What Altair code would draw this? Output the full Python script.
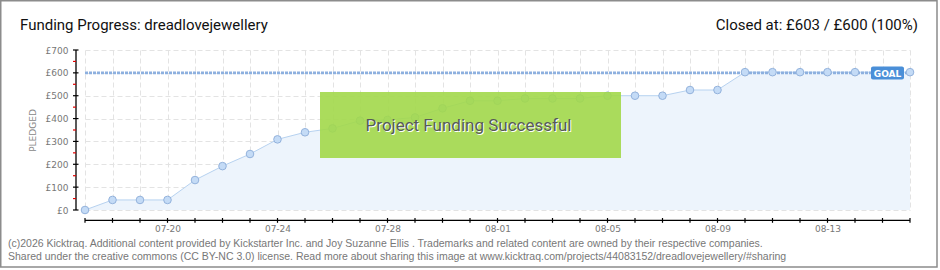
import altair as alt
import pandas as pd

# ---- data ----
dates = ["07-17", "07-18", "07-19", "07-20", "07-21", "07-22", "07-23", "07-24",
         "07-25", "07-26", "07-27", "07-28", "07-29", "07-30", "07-31",
         "08-01", "08-02", "08-03", "08-04", "08-05", "08-06", "08-07", "08-08",
         "08-09", "08-10", "08-11", "08-12", "08-13", "08-14", "08-15", "08-16"]
pledged = [0, 44, 44, 44, 131, 192, 245, 309,
           340, 357, 391, 394, 405, 445, 478,
           478, 488, 488, 488, 500, 500, 500, 525,
           525, 603, 603, 603, 603, 603, 603, 603]
goal = 600
y_ticks = [0, 100, 200, 300, 400, 500, 600, 700]
minor_ticks = [50, 150, 250, 350, 450, 550, 650]
x_labels = ["07-20", "07-24", "07-28", "08-01", "08-05", "08-09", "08-13"]

title_left = "Funding Progress: dreadlovejewellery"
title_right = "Closed at:  £603 /  £600 (100%)"
success_text = "Project Funding Successful"
footer1 = ("(c)2026 Kicktraq. Additional content provided by Kickstarter Inc. and  Joy Suzanne Ellis . "
           "Trademarks and related content are owned by their respective companies.")
footer2 = ("Shared under the creative commons (CC BY-NC 3.0) license. Read more about sharing this image at "
           "www.kicktraq.com/projects/44083152/dreadlovejewellery/#sharing")

df = pd.DataFrame({"date": dates, "pledged": pledged})
goal_df = pd.DataFrame({"date": dates, "pledged": [goal] * len(dates)})
minor_df = pd.DataFrame({"pledged": minor_ticks})
major_df = pd.DataFrame({"pledged": y_ticks})
xdom_df = pd.DataFrame({"date": [dates[0]], "date2": [dates[-1]]})
ydom_df = pd.DataFrame({"pledged": [y_ticks[0]], "p2": [y_ticks[-1]]})
one = pd.DataFrame({"a": [0]})

W, H = 825, 160
label_list = "[" + ",".join("'%s'" % s for s in x_labels) + "]"

x_axis = alt.Axis(
    title=None, offset=10, domain=False, ticks=False,
    labelExpr="indexof(%s, datum.value) >= 0 ? datum.value : ''" % label_list,
    labelAngle=0, labelOverlap=False, labelColor="#777", labelFont="DejaVu Sans",
    labelFontSize=9, labelPadding=4,
    grid=True, gridColor="#e3e3e3", gridDash=[5, 3], gridWidth=1,
)
y_axis = alt.Axis(
    title="PLEDGED", titleColor="#888", titleFont="DejaVu Sans", titleFontSize=9,
    titleFontWeight="normal", titlePadding=8,
    values=y_ticks, offset=9, domain=False, ticks=False,
    labelExpr="'£' + datum.value", labelColor="#777", labelFont="DejaVu Sans",
    labelFontSize=9, labelPadding=8,
    grid=True, gridColor="#e3e3e3", gridDash=[5, 3], gridWidth=1,
)
x_scale = alt.Scale(type="point", padding=0, domain=dates)
y_scale = alt.Scale(domain=[0, 700], nice=False)

xe = alt.X("date:O", scale=x_scale, axis=x_axis)
ye = alt.Y("pledged:Q", scale=y_scale, axis=y_axis)

area = alt.Chart(df).mark_area(color="#edf4fc", opacity=1).encode(x=xe, y=ye)
line = alt.Chart(df).mark_line(color="#b7d2f0", strokeWidth=1).encode(x=xe, y=ye)
goal_line = alt.Chart(goal_df).mark_line(
    color="#8db0df", strokeWidth=2.6, strokeDash=[3, 1]
).encode(x=xe, y=ye)
points = alt.Chart(df).mark_point(
    filled=True, shape="circle", size=58, fill="#c4dbf6", stroke="#93b2dc",
    strokeWidth=1, opacity=1
).encode(x=xe, y=ye)

# hand-drawn axis lines and ticks (ticks cross the axis line as in the reference)
x_domain = alt.Chart(xdom_df).mark_rule(color="#000000", strokeWidth=1.3).encode(
    x=xe, x2="date2", y=alt.value(170.3)
)
x_ticks = alt.Chart(df).mark_rule(color="#000000", strokeWidth=1.2).encode(
    x=xe, y=alt.value(168), y2=alt.value(172.8)
)
y_domain = alt.Chart(ydom_df).mark_rule(color="#000000", strokeWidth=1.3).encode(
    y=ye, y2="p2", x=alt.value(-9)
)
y_major = alt.Chart(major_df).mark_rule(color="#000000", strokeWidth=1.2).encode(
    y=ye, x=alt.value(-12), x2=alt.value(-6.5)
)
y_minor = alt.Chart(minor_df).mark_rule(color="#e00000", strokeWidth=1.2).encode(
    y=ye, x=alt.value(-12), x2=alt.value(-9)
)

# success banner
banner = alt.Chart(one).mark_rect(fill="#a2d84a", opacity=0.9).encode(
    x=alt.value(235), x2=alt.value(536), y=alt.value(42), y2=alt.value(108)
)
banner_shadow = alt.Chart(one).mark_text(
    text=success_text, font="Roboto", fontSize=17, color="#ffffff",
    align="center", baseline="middle"
).encode(x=alt.value(384.5), y=alt.value(76.5))
banner_text = alt.Chart(one).mark_text(
    text=success_text, font="Roboto", fontSize=17, color="#575a57",
    align="center", baseline="middle"
).encode(x=alt.value(383.5), y=alt.value(75.5))

# goal tag
goal_box = alt.Chart(one).mark_rect(fill="#4a8fd8", cornerRadius=2).encode(
    x=alt.value(786), x2=alt.value(819), y=alt.value(16.5), y2=alt.value(29.5)
)
goal_text = alt.Chart(one).mark_text(
    text="GOAL", font="DejaVu Sans", fontSize=9, fontWeight="bold", color="#ffffff",
    align="center", baseline="middle"
).encode(x=alt.value(802.5), y=alt.value(23.5))

# header / footer
t_left = alt.Chart(one).mark_text(
    text=title_left, font="Roboto", fontSize=15, color="#111", align="left",
    baseline="alphabetic"
).encode(x=alt.value(-65), y=alt.value(-20.5))
t_right = alt.Chart(one).mark_text(
    text=title_right, font="Roboto", fontSize=15, color="#111", align="right",
    baseline="alphabetic"
).encode(x=alt.value(833), y=alt.value(-20.5))
f1 = alt.Chart(one).mark_text(
    text=footer1, font="Liberation Sans", fontSize=10.5, color="#777", align="left",
    baseline="alphabetic"
).encode(x=alt.value(-77), y=alt.value(196.5))
f2 = alt.Chart(one).mark_text(
    text=footer2, font="Liberation Sans", fontSize=10.5, color="#777", align="left",
    baseline="alphabetic"
).encode(x=alt.value(-77), y=alt.value(209.5))

border = alt.Chart(one).mark_rect(
    fill="#ffffff", fillOpacity=0, stroke="#8c8c8c", strokeWidth=1.5
).encode(x=alt.value(-84.25), x2=alt.value(852), y=alt.value(-49.25), y2=alt.value(217))

chart = alt.layer(
    area, line, goal_line, points,
    x_domain, x_ticks, y_domain, y_major, y_minor,
    banner, banner_shadow, banner_text, goal_box, goal_text,
    t_left, t_right, f1, f2, border
).properties(
    width=W, height=H,
    autosize=alt.AutoSizeParams(type="none"),
    padding={"left": 85, "top": 50, "right": 30, "bottom": 60},
    background="#ffffff",
).configure_view(stroke=None)

chart.save("out.html", embed_options={"renderer": "svg", "actions": False})
